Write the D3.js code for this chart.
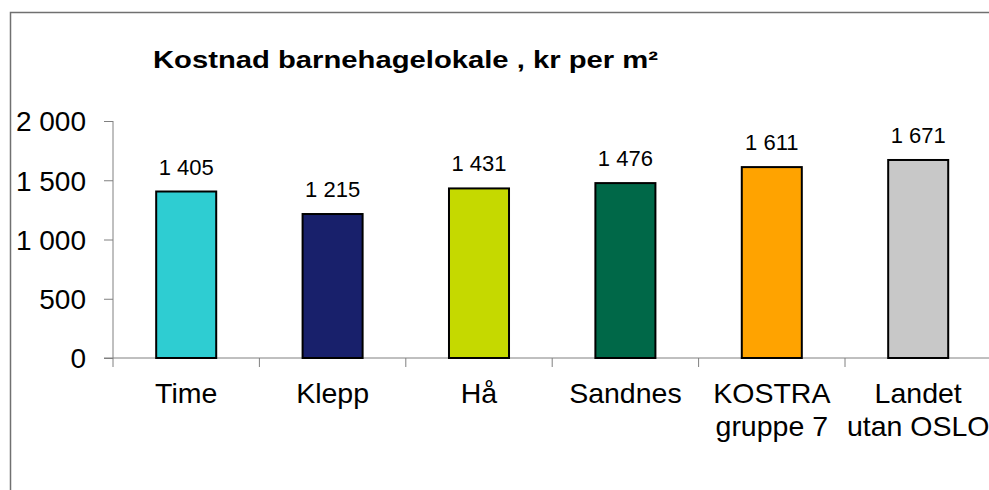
<!DOCTYPE html>
<html>
<head>
<meta charset="utf-8">
<script src="https://cdn.jsdelivr.net/npm/d3@7"></script>
<style>
  body { margin: 0; background: #fff; }
  text { font-family: "Liberation Sans", Arial, sans-serif; fill: #000; }
</style>
</head>
<body>
<div id="chart"></div>
<script>
// data
const categories = ["Time", "Klepp", "Hå", "Sandnes", "KOSTRA\ngruppe 7", "Landet\nutan OSLO"];
const values = [1405, 1215, 1431, 1476, 1611, 1671];
const barColors = ["#2ecdd2", "#18206b", "#c5d900", "#006848", "#ffa300", "#c8c8c8"];
const yTicks = [0, 500, 1000, 1500, 2000];
const title = "Kostnad barnehagelokale , kr per m²";

const width = 989, height = 490;

let svg = d3.select("#chart")
    .append("svg")
    .attr("width", width)
    .attr("height", height);

// chart border, runs off the right and bottom
svg.append("rect")
    .attr("x", 10.5)
    .attr("y", 12.5)
    .attr("width", 1000)
    .attr("height", 500)
    .attr("fill", "none")
    .attr("stroke", "#707070")
    .attr("stroke-width", 1.5);

svg.append("text")
    .attr("x", 153)
    .attr("y", 68)
    .style("font-size", "24px")
    .style("font-weight", "bold")
    .attr("textLength", 505)
    .attr("lengthAdjust", "spacingAndGlyphs")
    .text(title);

// scales
let x = d3.scaleBand()
    .domain(categories)
    .range([113, 991.4])
    .paddingInner(0.59)
    .paddingOuter(0.295);

let y = d3.scaleLinear()
    .domain([0, 2000])
    .range([358, 121]);

const nb = d3.formatLocale({decimal: ",", thousands: " ", grouping: [3], currency: ["", ""]});
const fmt = nb.format(",d");

// y axis
let yAxis = svg.append("g")
    .attr("transform", "translate(113,0)")
    .call(d3.axisLeft(y).tickValues(yTicks).tickSize(9).tickPadding(18).tickFormat(fmt));
yAxis.select(".domain").attr("stroke", "#808080").attr("d", "M0," + y(2000) + "V" + y(0));
yAxis.selectAll(".tick line").attr("stroke", "#808080");
yAxis.selectAll(".tick text").style("font-size", "28px").attr("dy", "0.35em");

// x axis baseline + category ticks between bands
let gap = (x.step() - x.bandwidth()) / 2;
svg.append("line")
    .attr("x1", 104).attr("x2", width)
    .attr("y1", y(0)).attr("y2", y(0))
    .attr("stroke", "#808080");

svg.selectAll(".xtick")
    .data(categories)
    .enter().append("line")
    .attr("class", "xtick")
    .attr("x1", d => x(d) - gap)
    .attr("x2", d => x(d) - gap)
    .attr("y1", y(0))
    .attr("y2", y(0) + 9)
    .attr("stroke", "#808080");

// bars
svg.selectAll(".bar")
    .data(values)
    .enter().append("rect")
    .attr("class", "bar")
    .attr("x", (d, i) => x(categories[i]))
    .attr("y", d => y(d))
    .attr("width", x.bandwidth())
    .attr("height", d => y(0) - y(d))
    .attr("fill", (d, i) => barColors[i])
    .attr("stroke", "#000")
    .attr("stroke-width", 2);

// value labels
svg.selectAll(".val")
    .data(values)
    .enter().append("text")
    .attr("class", "val")
    .attr("x", (d, i) => x(categories[i]) + x.bandwidth() / 2)
    .attr("y", d => y(d) - 17)
    .attr("text-anchor", "middle")
    .style("font-size", "22px")
    .text(d => fmt(d));

// category labels, may be on two lines
let cat = svg.selectAll(".cat")
    .data(categories)
    .enter().append("text")
    .attr("class", "cat")
    .attr("text-anchor", "middle")
    .style("font-size", "28.5px");

cat.each(function(d) {
    let lines = d.split("\n");
    let cx = x(d) + x.bandwidth() / 2;
    d3.select(this).selectAll("tspan")
        .data(lines)
        .enter().append("tspan")
        .attr("x", cx)
        .attr("y", (l, i) => 403 + i * 33)
        .text(l => l);
});
</script>
</body>
</html>
